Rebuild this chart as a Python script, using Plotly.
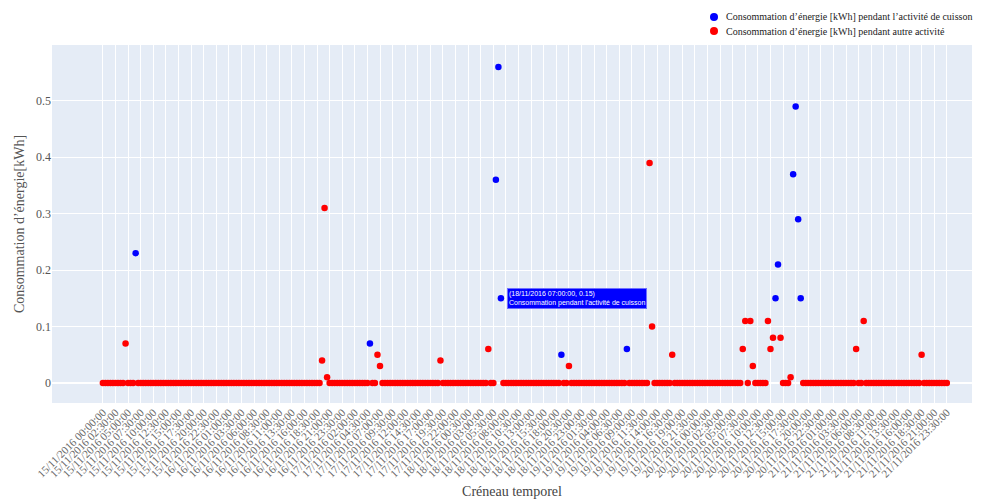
import pandas as pd
import plotly.graph_objects as go

# Half-hourly time slots over one week
slot_times = pd.date_range("2016-11-15 00:00", "2016-11-21 23:30", freq="30min")
slots = [t.strftime("%d/%m/%Y %H:%M:%S") for t in slot_times]

# Slots with cooking activity and their consumption [kWh]
cooking_slots = [
    "15/11/2016 06:30:00", "17/11/2016 05:00:00", "18/11/2016 06:00:00",
    "18/11/2016 06:30:00", "18/11/2016 07:00:00", "18/11/2016 19:00:00",
    "19/11/2016 08:00:00", "20/11/2016 13:30:00", "20/11/2016 14:00:00",
    "20/11/2016 17:00:00", "20/11/2016 17:30:00", "20/11/2016 18:00:00",
    "20/11/2016 18:30:00",
]
cooking_kwh = [0.23, 0.07, 0.36, 0.56, 0.15, 0.05, 0.06, 0.15, 0.21, 0.37, 0.49, 0.29, 0.15]

# Other activity: non-zero consumption slots [kWh]; all remaining slots read 0
other_peak_slots = [
    "15/11/2016 04:30:00", "16/11/2016 19:30:00", "16/11/2016 20:00:00",
    "16/11/2016 20:30:00", "17/11/2016 06:30:00", "17/11/2016 07:00:00",
    "17/11/2016 19:00:00", "18/11/2016 04:30:00", "18/11/2016 20:30:00",
    "19/11/2016 12:30:00", "19/11/2016 13:00:00", "19/11/2016 17:00:00",
    "20/11/2016 07:00:00", "20/11/2016 07:30:00", "20/11/2016 08:30:00",
    "20/11/2016 09:00:00", "20/11/2016 12:00:00", "20/11/2016 12:30:00",
    "20/11/2016 13:00:00", "20/11/2016 14:30:00", "20/11/2016 16:30:00",
    "21/11/2016 05:30:00", "21/11/2016 07:00:00", "21/11/2016 18:30:00",
]
other_peak_kwh = [0.07, 0.04, 0.31, 0.01, 0.05, 0.03, 0.04, 0.06, 0.03, 0.39, 0.10,
                  0.05, 0.06, 0.11, 0.11, 0.03, 0.11, 0.06, 0.08, 0.08, 0.01, 0.06,
                  0.11, 0.05]

series_names = [
    "Consommation d’énergie [kWh] pendant l’activité de cuisson",
    "Consommation d’énergie [kWh] pendant autre activité",
]
series_colors = ["blue", "red"]

peaks = dict(zip(other_peak_slots, other_peak_kwh))
other_slots = [s for s in slots if s not in set(cooking_slots)]
other_kwh = [peaks.get(s, 0.0) for s in other_slots]

SERIF = "Liberation Serif, Times New Roman, serif"

fig = go.Figure()
fig.add_trace(go.Scatter(
    x=cooking_slots, y=cooking_kwh, mode="markers", name=series_names[0],
    marker=dict(color=series_colors[0], size=6.5), showlegend=False,
))
fig.add_trace(go.Scatter(
    x=other_slots, y=other_kwh, mode="markers", name=series_names[1],
    marker=dict(color=series_colors[1], size=6.5), showlegend=False,
))

# Compact legend above the top-right corner of the plot area
W, H = 990, 499
ML, MR, MT, MB = 52, 18, 45, 96
pw, ph = W - ML - MR, H - MT - MB
for i, (name, col) in enumerate(zip(series_names, series_colors)):
    ypx = 17 + 14 * i
    ypap = (H - MB - ypx) / ph
    fig.add_shape(type="circle", xref="paper", yref="paper",
                  xsizemode="pixel", ysizemode="pixel",
                  xanchor=(714 - ML) / pw, yanchor=ypap,
                  x0=-4, x1=4, y0=-4, y1=4,
                  fillcolor=col, line=dict(width=0))
    fig.add_annotation(x=(724 - ML) / pw, y=ypap, xref="paper", yref="paper",
                       text=name, showarrow=False, xanchor="left", yanchor="middle",
                       font=dict(family=SERIF, size=10, color="#222"))

# Highlighted reading box next to one cooking point
hl = cooking_slots.index("18/11/2016 07:00:00")
fig.add_annotation(
    x=cooking_slots[hl], y=cooking_kwh[hl], xref="x", yref="y",
    text=f"({cooking_slots[hl]}, {cooking_kwh[hl]:g})<br>Consommation pendant l'activité de cuisson",
    showarrow=False, xanchor="left", yanchor="middle", xshift=6, align="left",
    bgcolor="blue", bordercolor="#6f6fff", borderwidth=1, borderpad=1,
    font=dict(family="Liberation Sans, Arial, sans-serif", size=7, color="white"),
)

fig.update_layout(
    width=W, height=H,
    margin=dict(l=ML, r=MR, t=MT, b=MB),
    paper_bgcolor="white", plot_bgcolor="#E5ECF6",
    font=dict(family=SERIF, color="#444"),
    showlegend=False,
)
fig.update_xaxes(
    type="category", categoryorder="array", categoryarray=slots,
    tickmode="array", tickvals=slots[::5], tickangle=-45,
    tickfont=dict(family=SERIF, size=11, color="#666"),
    range=[-20.2, 345], gridcolor="white", showline=False, zeroline=False,
    title=dict(text="Créneau temporel", font=dict(family=SERIF, size=14, color="#444"), standoff=12),
    automargin=False,
)
fig.update_yaxes(
    range=[-0.0355, 0.599], dtick=0.1,
    tickfont=dict(family=SERIF, size=12, color="#555"),
    gridcolor="white", zeroline=True, zerolinecolor="white", zerolinewidth=2,
    title=dict(text="Consommation d’énergie[kWh]", font=dict(family=SERIF, size=14, color="#555"), standoff=8),
    automargin=False,
)

fig.write_html("out.html")
